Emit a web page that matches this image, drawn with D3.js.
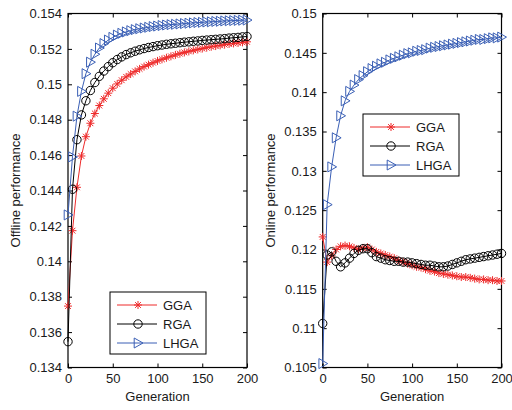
<!DOCTYPE html>
<html><head><meta charset="utf-8">
<script src="https://cdn.jsdelivr.net/npm/d3@7"></script>
<style>
html,body{margin:0;padding:0;background:#fff;}
svg text{font-family:"Liberation Sans",Arial,sans-serif;}
</style></head>
<body><svg id="c" width="512" height="410"></svg>
<script>
const generations = [0,5,10,15,20,25,30,35,40,45,50,55,60,65,70,75,80,85,90,95,100,105,110,115,120,125,130,135,140,145,150,155,160,165,170,175,180,185,190,195,200];
const seriesNames = ["GGA","RGA","LHGA"];
// Offline performance (left panel)
const offlineGGA = [0.13747,0.14173,0.14418,0.14595,0.14704,0.14780,0.14835,0.14880,0.14918,0.14950,0.14978,0.15002,0.15023,0.15042,0.15058,0.15073,0.15087,0.15100,0.15111,0.15122,0.15132,0.15141,0.15150,0.15158,0.15166,0.15173,0.15180,0.15186,0.15192,0.15197,0.15202,0.15207,0.15212,0.15216,0.15220,0.15224,0.15228,0.15231,0.15234,0.15237,0.15240];
const offlineRGA = [0.13546,0.14407,0.14687,0.14827,0.14907,0.14965,0.15010,0.15045,0.15075,0.15100,0.15122,0.15140,0.15155,0.15168,0.15178,0.15187,0.15195,0.15202,0.15208,0.15213,0.15218,0.15222,0.15226,0.15229,0.15232,0.15235,0.15238,0.15240,0.15243,0.15245,0.15248,0.15250,0.15252,0.15254,0.15256,0.15258,0.15261,0.15263,0.15265,0.15268,0.15270];
const offlineLHGA = [0.14262,0.14590,0.14820,0.14960,0.15060,0.15125,0.15170,0.15205,0.15230,0.15250,0.15265,0.15278,0.15288,0.15296,0.15303,0.15309,0.15314,0.15318,0.15322,0.15326,0.15329,0.15332,0.15335,0.15337,0.15339,0.15341,0.15343,0.15345,0.15347,0.15349,0.15350,0.15352,0.15353,0.15355,0.15356,0.15358,0.15359,0.15360,0.15361,0.15362,0.15363];
// Online performance (right panel)
const onlineGGA = [0.1216,0.1184,0.1192,0.1200,0.1204,0.1205,0.1204,0.1202,0.1200,0.1202,0.1203,0.1200,0.1197,0.1195,0.1193,0.1191,0.1189,0.1186,0.1184,0.1182,0.1180,0.1178,0.1177,0.1175,0.1173,0.1172,0.1170,0.1169,0.1168,0.1167,0.1166,0.1165,0.1165,0.1164,0.1163,0.1162,0.1162,0.1161,0.1161,0.1160,0.1160];
const onlineRGA = [0.1106,0.1193,0.1197,0.1185,0.1178,0.1183,0.1189,0.1195,0.1199,0.1201,0.1201,0.1196,0.1191,0.1189,0.1187,0.1186,0.1185,0.1185,0.1184,0.1184,0.1183,0.1182,0.1181,0.1180,0.1180,0.1179,0.1178,0.1178,0.1179,0.1181,0.1183,0.1185,0.1187,0.1188,0.1189,0.1190,0.1191,0.1192,0.1193,0.1194,0.1195];
const onlineLHGA = [0.1055,0.1257,0.1305,0.1342,0.1370,0.1389,0.1401,0.1409,0.1416,0.1421,0.1426,0.1430,0.1433,0.1436,0.1438,0.1441,0.1443,0.1445,0.1447,0.1449,0.1450,0.1452,0.1453,0.1454,0.1456,0.1457,0.1458,0.1459,0.1460,0.1461,0.1462,0.1463,0.1464,0.1465,0.1466,0.1467,0.1467,0.1468,0.1469,0.1469,0.1470];
const xTicks = [0,50,100,150,200];
const leftYTicks = [0.134,0.136,0.138,0.14,0.142,0.144,0.146,0.148,0.15,0.152,0.154];
const rightYTicks = [0.105,0.11,0.115,0.12,0.125,0.13,0.135,0.14,0.145,0.15];
const xLabel = "Generation";
const leftYLabel = "Offline performance";
const rightYLabel = "Online performance";

const colors = {GGA:"#ee2b2b", RGA:"#000000", LHGA:"#3a5fb5"};
const markerTypes = {GGA:"star", RGA:"circle", LHGA:"tri"};
const FS = "13px";
const svg = d3.select("#c");
const fmt = d => String(+d.toFixed(3));

function marker(g, type, color){
  if(type==="star"){
    const s=4, d=2.9;
    g.append("path").attr("d",`M${-s},0L${s},0M0,${-s}L0,${s}M${-d},${-d}L${d},${d}M${-d},${d}L${d},${-d}`)
      .attr("stroke",color).attr("stroke-width",1).attr("fill","none");
  } else if(type==="circle"){
    g.append("circle").attr("r",4.2).attr("stroke",color).attr("stroke-width",1).attr("fill","none");
  } else {
    g.append("path").attr("d","M-3.8,-5L5,0L-3.8,5Z").attr("stroke",color).attr("stroke-width",1).attr("fill","none");
  }
}

function panel(cfg){
  const x = d3.scaleLinear().domain([0,200]).range([cfg.x0,cfg.x1]);
  const y = d3.scaleLinear().domain(cfg.ydom).range([cfg.y1,cfg.y0]);
  const g = svg.append("g");
  const axStyle = sel => {
    sel.select(".domain").remove();
    sel.selectAll("line").attr("stroke","#000");
    sel.selectAll("text").attr("fill","#1a1a1a").style("font-size",FS);
  };
  g.append("g").attr("transform",`translate(0,${cfg.y1})`)
    .call(d3.axisBottom(x).tickValues(xTicks).tickSizeInner(-4).tickSizeOuter(0).tickPadding(6).tickFormat(d3.format("d")))
    .call(axStyle);
  g.append("g").attr("transform",`translate(0,${cfg.y0})`)
    .call(d3.axisTop(x).tickValues(xTicks).tickSizeInner(-4).tickSizeOuter(0).tickFormat(""))
    .call(axStyle);
  g.append("g").attr("transform",`translate(${cfg.x0},0)`)
    .call(d3.axisLeft(y).tickValues(cfg.yticks).tickSizeInner(-4).tickSizeOuter(0).tickPadding(6).tickFormat(fmt))
    .call(axStyle);
  g.append("g").attr("transform",`translate(${cfg.x1},0)`)
    .call(d3.axisRight(y).tickValues(cfg.yticks).tickSizeInner(-4).tickSizeOuter(0).tickFormat(""))
    .call(axStyle);
  g.append("rect").attr("x",cfg.x0).attr("y",cfg.y0).attr("width",cfg.x1-cfg.x0).attr("height",cfg.y1-cfg.y0)
    .attr("fill","none").attr("stroke","#000").attr("stroke-width",1.2);

  const line = d3.line().x((d,i)=>x(generations[i])).y(d=>y(d));
  seriesNames.forEach((name,k)=>{
    const vals = cfg.series[k];
    g.append("path").datum(vals).attr("d",line).attr("fill","none").attr("stroke",colors[name]).attr("stroke-width",1);
    vals.forEach((v,i)=>{
      const m = g.append("g").attr("transform",`translate(${x(generations[i])},${y(v)})`);
      marker(m, markerTypes[name], colors[name]);
    });
  });

  g.append("text").attr("x",(cfg.x0+cfg.x1)/2).attr("y",cfg.y1+33).attr("text-anchor","middle")
    .attr("fill","#1a1a1a").style("font-size",FS).text(xLabel);
  g.append("text").attr("transform",`translate(${cfg.ylabX},${(cfg.y0+cfg.y1)/2}) rotate(-90)`)
    .attr("text-anchor","middle").attr("fill","#1a1a1a").style("font-size",FS).text(cfg.ylabel);

  // legend
  const L = cfg.legend;
  g.append("rect").attr("x",L.x).attr("y",L.y).attr("width",L.w).attr("height",L.h)
    .attr("fill","#fff").attr("stroke","#000").attr("stroke-width",1);
  seriesNames.forEach((name,k)=>{
    const yy = L.y + 13 + k*19;
    g.append("line").attr("x1",L.x+7).attr("x2",L.x+47).attr("y1",yy).attr("y2",yy)
      .attr("stroke",colors[name]).attr("stroke-width",1);
    const m = g.append("g").attr("transform",`translate(${L.x+28},${yy})`);
    marker(m, markerTypes[name], colors[name]);
    g.append("text").attr("x",L.x+53).attr("y",yy+4.5).attr("fill","#1a1a1a").style("font-size",FS).text(name);
  });
}

panel({x0:68,x1:247,y0:13.5,y1:367.5,ydom:[0.134,0.154],yticks:leftYTicks,
  series:[offlineGGA,offlineRGA,offlineLHGA],ylabel:leftYLabel,ylabX:20,
  legend:{x:110,y:292,w:96,h:62}});
panel({x0:322.7,x1:501.5,y0:13.5,y1:367.5,ydom:[0.105,0.15],yticks:rightYTicks,
  series:[onlineGGA,onlineRGA,onlineLHGA],ylabel:rightYLabel,ylabX:275,
  legend:{x:363,y:114,w:96,h:62}});
</script></body></html>
